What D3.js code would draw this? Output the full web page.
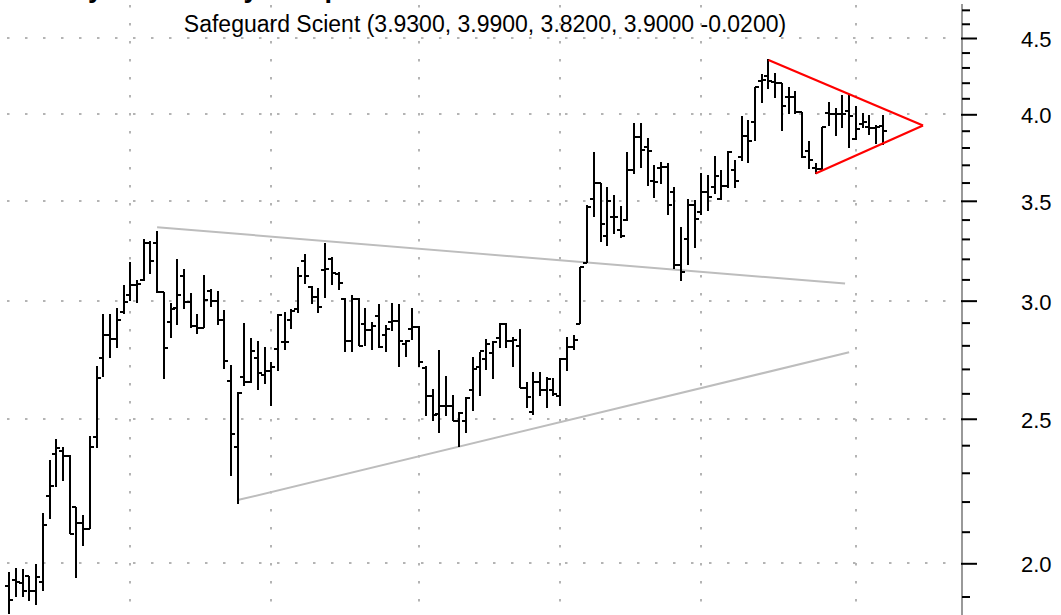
<!DOCTYPE html>
<html><head><meta charset="utf-8">
<script src="https://cdn.jsdelivr.net/npm/d3@7"></script>
<style>html,body{margin:0;padding:0;background:#fff;overflow:hidden}</style>
</head><body><svg id="c" width="1061" height="615"></svg>
<script>
// OHLC values, one entry per trading day (index 0..130)
const open = [1.93,1.95,1.94,1.96,1.915,1.942,2.22,2.368,2.38,2.362,2.181,2.127,2.109,2.432,2.746,2.843,2.828,2.946,3.024,3.071,
3.097,3.278,3.278,3.039,2.901,2.966,3.118,2.992,2.883,2.877,3.044,3.0,2.912,2.652,2.392,2.668,2.645,2.746,2.676,2.693,
2.784,2.813,2.912,2.962,3.191,3.063,3.019,3.146,3.199,3.127,3.008,2.818,3.008,2.894,2.865,2.931,2.843,2.901,2.909,2.806,
2.873,2.88,2.704,2.591,2.519,2.551,2.551,2.493,2.493,2.614,2.71,2.742,2.766,2.833,2.894,2.818,2.799,2.622,2.526,2.645,
2.614,2.614,2.591,2.742,2.792,2.894,3.181,3.51,3.597,3.316,3.416,3.347,3.399,3.671,3.864,3.801,3.608,3.682,3.686,3.547,
3.172,3.3,3.48,3.438,3.547,3.578,3.51,3.583,3.671,3.743,3.87,3.95,4.209,4.246,4.202,4.196,4.106,4.106,4.013,3.782,
3.682,3.677,4.006,4.002,4.002,4.023,3.851,3.941,3.924,3.916,3.93];
const high = [1.973,1.983,1.98,1.959,1.996,2.161,2.344,2.421,2.392,2.362,2.181,2.153,2.432,2.71,2.935,2.935,2.962,3.071,3.182,3.094,
3.296,3.288,3.339,3.039,2.985,3.195,3.146,3.035,2.935,3.118,3.05,3.044,2.954,2.714,2.604,2.894,2.828,2.818,2.792,2.728,
2.935,2.946,2.958,3.156,3.224,3.066,3.055,3.278,3.208,3.135,3.008,3.024,3.008,2.962,2.901,2.981,2.887,2.985,2.981,2.821,
2.962,2.883,2.71,2.614,2.777,2.668,2.591,2.525,2.584,2.749,2.77,2.824,2.818,2.894,2.894,2.836,2.868,2.645,2.686,2.686,
2.665,2.659,2.742,2.833,2.843,3.159,3.475,3.772,3.597,3.575,3.529,3.469,3.772,3.944,3.944,3.851,3.696,3.715,3.709,3.572,
3.36,3.505,3.501,3.648,3.639,3.747,3.667,3.778,3.724,3.986,3.961,4.17,4.253,4.35,4.257,4.196,4.17,4.143,4.013,3.837,
3.705,3.92,4.074,4.033,4.117,4.117,4.047,4.002,3.992,3.93,3.99];
const low = [1.85,1.9,1.9,1.888,1.878,1.918,2.142,2.253,2.273,2.093,1.957,2.056,2.109,2.392,2.668,2.749,2.792,2.939,3.0,2.992,
3.097,3.127,3.039,2.659,2.833,2.892,2.962,2.88,2.85,2.877,2.972,2.892,2.701,2.29,2.194,2.632,2.645,2.614,2.638,2.551,
2.693,2.784,2.873,2.946,3.081,2.985,2.946,3.016,3.078,3.05,2.774,2.774,2.799,2.799,2.78,2.792,2.774,2.865,2.71,2.752,
2.824,2.71,2.513,2.493,2.449,2.513,2.493,2.394,2.449,2.532,2.591,2.696,2.659,2.792,2.792,2.71,2.622,2.545,2.517,2.591,
2.545,2.591,2.551,2.693,2.784,2.894,3.181,3.416,3.289,3.266,3.329,3.309,3.395,3.648,3.686,3.583,3.516,3.597,3.427,3.151,
3.094,3.172,3.258,3.427,3.448,3.538,3.505,3.572,3.575,3.724,3.715,3.841,4.074,4.16,4.106,3.904,4.002,4.002,3.743,3.677,
3.65,3.667,3.93,3.87,3.92,3.801,3.845,3.92,3.88,3.825,3.82];
const close = [1.89,1.942,1.915,1.915,1.959,2.123,2.253,2.388,2.362,2.093,2.13,2.109,2.392,2.663,2.843,2.828,2.913,2.992,3.071,3.078,
3.278,3.191,3.039,2.79,2.962,3.024,2.992,2.883,2.877,3.005,3.0,2.912,2.735,2.443,2.6,2.645,2.774,2.682,2.69,2.707,
2.935,2.813,2.951,3.118,3.118,3.019,2.972,3.151,3.13,3.081,2.818,3.008,2.799,2.865,2.883,2.792,2.873,2.909,2.821,2.818,
2.88,2.728,2.591,2.513,2.551,2.551,2.493,2.521,2.582,2.701,2.774,2.806,2.813,2.894,2.818,2.824,2.622,2.584,2.645,2.614,
2.659,2.598,2.742,2.792,2.824,3.159,3.469,3.597,3.378,3.501,3.416,3.317,3.671,3.864,3.786,3.782,3.602,3.686,3.48,3.172,
3.135,3.48,3.404,3.547,3.523,3.639,3.583,3.772,3.608,3.87,3.841,4.17,4.218,4.213,4.196,4.054,4.106,4.013,3.743,3.728,
3.677,3.92,4.002,4.002,4.002,3.992,3.91,3.951,3.916,3.92,3.9];

const monthStartBars = [18, 39, 61, 82, 103, 126];
const majorTicks = [2.0, 2.5, 3.0, 3.5, 4.0, 4.5];
const majorLabels = ["2.0", "2.5", "3.0", "3.5", "4.0", "4.5"];
const minorTicks = [1.9,2.1,2.2,2.3,2.4,2.6,2.7,2.8,2.9,3.1,3.2,3.3,3.4,3.6,3.7,3.8,3.9,4.1,4.2,4.3,4.4,4.6,4.7];
// trend lines as [bar index, price]
const upperTrend = [[22, 3.36], [124.4, 3.08]];
const lowerTrend = [[34, 2.205], [125, 2.77]];
const triTop = [[113, 4.35], [136, 3.932]];
const triBottom = [[120, 3.65], [136, 3.932]];
const titleText = "Daily and Weekly Setup";
const subtitleText = "Safeguard Scient (3.9300, 3.9900, 3.8200, 3.9000 -0.0200)";

const svg = d3.select("#c");
svg.append("rect").attr("width", 1061).attr("height", 615).attr("fill", "#fff");

const x = d3.scaleLinear().domain([0, 130]).range([9.3, 882.7]);
const y = d3.scaleLog().domain([2, 4]).range([563.3, 114.3]);
const axisX = 962;

// grid
const gridStyle = g => g.attr("stroke", "#b4b4b4").attr("stroke-width", 2).attr("stroke-dasharray", "2.5,15.5");
svg.append("g").selectAll("line").data(majorTicks).join("line")
  .attr("x1", 7).attr("x2", 958)
  .attr("y1", d => Math.round(y(d))).attr("y2", d => Math.round(y(d)))
  .call(gridStyle);
svg.append("g").selectAll("line").data(monthStartBars).join("line")
  .attr("x1", d => Math.round(x(d))).attr("x2", d => Math.round(x(d)))
  .attr("y1", 5).attr("y2", 615)
  .call(gridStyle);

// title (mostly cut off at top, as in the reference) and subtitle
const title = svg.append("text").text(titleText)
  .attr("font-family", "Liberation Sans, Arial, sans-serif")
  .attr("font-weight", "bold").attr("font-size", 27)
  .attr("y", -3).attr("x", 0).attr("fill", "#000");
const yIdx = titleText.indexOf("y");
const off = title.node().getSubStringLength(0, yIdx);
title.attr("x", 88 - off);

svg.append("text").text(subtitleText)
  .attr("font-family", "Liberation Sans, Arial, sans-serif")
  .attr("font-size", 23).attr("text-anchor", "middle")
  .attr("x", 485).attr("y", 31.5).attr("fill", "#000");

// trend lines
const line = d3.line().x(d => x(d[0])).y(d => y(d[1]));
[upperTrend, lowerTrend].forEach(t => svg.append("path").attr("d", line(t))
  .attr("fill", "none").attr("stroke", "#bdbdbd").attr("stroke-width", 2));

// OHLC bars
const idx = d3.range(open.length);
const bars = svg.append("g").attr("stroke", "#000").attr("stroke-width", 2).attr("shape-rendering", "crispEdges");
bars.selectAll("line.hl").data(idx).join("line").attr("class", "hl")
  .attr("x1", i => Math.round(x(i))).attr("x2", i => Math.round(x(i)))
  .attr("y1", i => y(high[i]) - 0.5).attr("y2", i => y(low[i]) + 0.5);
bars.selectAll("line.o").data(idx).join("line").attr("class", "o")
  .attr("x1", i => Math.round(x(i)) - 4).attr("x2", i => Math.round(x(i)))
  .attr("y1", i => Math.round(y(open[i]))).attr("y2", i => Math.round(y(open[i])));
bars.selectAll("line.c").data(idx).join("line").attr("class", "c")
  .attr("x1", i => Math.round(x(i))).attr("x2", i => Math.round(x(i)) + 4)
  .attr("y1", i => Math.round(y(close[i]))).attr("y2", i => Math.round(y(close[i])));

// red triangle
[triTop, triBottom].forEach(t => svg.append("path").attr("d", line(t))
  .attr("fill", "none").attr("stroke", "#f00").attr("stroke-width", 2.2));

// right axis
svg.append("line").attr("x1", axisX).attr("x2", axisX).attr("y1", 4).attr("y2", 615)
  .attr("stroke", "#555").attr("stroke-width", 1.2);
const minorAxis = d3.axisRight(y).tickValues(minorTicks).tickSizeInner(8).tickSizeOuter(0).tickFormat("");
const gMin = svg.append("g").attr("transform", `translate(${axisX},0)`).call(minorAxis);
gMin.select(".domain").remove();
gMin.selectAll(".tick line").attr("stroke", "#000").attr("stroke-width", 2);
const majorAxis = d3.axisRight(y).tickValues(majorTicks).tickSizeInner(16).tickSizeOuter(0).tickPadding(44)
  .tickFormat((d, i) => majorLabels[i]);
const gMaj = svg.append("g").attr("transform", `translate(${axisX - 1},0)`).call(majorAxis);
gMaj.select(".domain").remove();
gMaj.selectAll(".tick line").attr("stroke", "#000").attr("stroke-width", 2);
gMaj.selectAll(".tick text").attr("font-family", "Liberation Sans, Arial, sans-serif")
  .attr("font-size", 22).attr("fill", "#000").attr("dy", "0.38em");
</script></body></html>
